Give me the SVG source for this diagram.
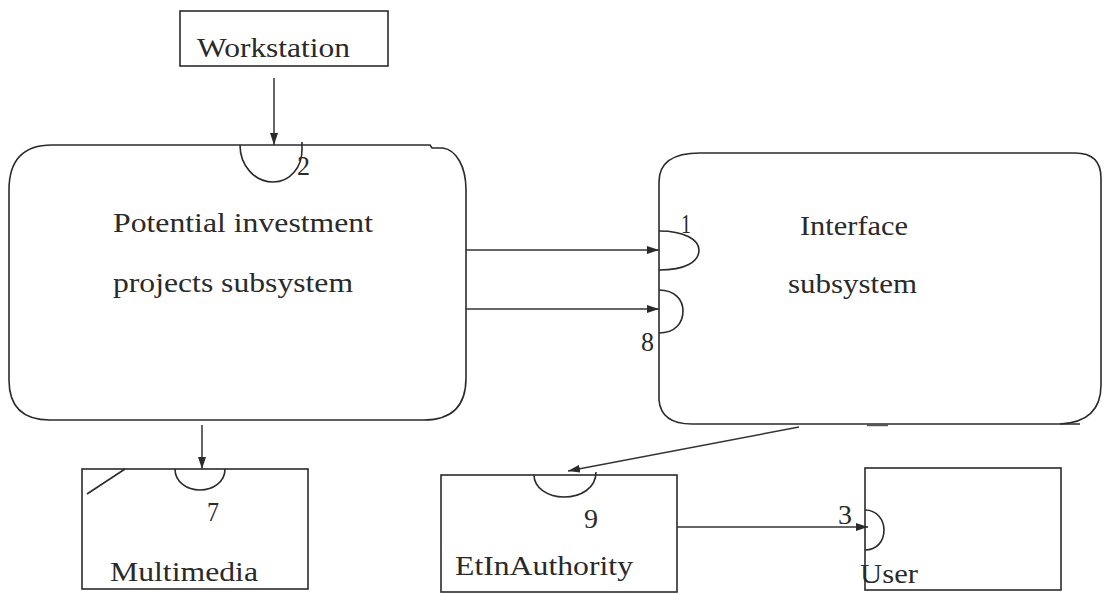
<svg xmlns="http://www.w3.org/2000/svg" width="1105" height="594" viewBox="0 0 1105 594">
  <style>
    .box { fill: none; stroke: #2b2b2b; stroke-width: 1.6; }
    .port { fill: none; stroke: #2b2b2b; stroke-width: 1.6; }
    .flow { fill: none; stroke: #333; stroke-width: 1.5; marker-end: url(#arrow); }
    .label { font-family: "Liberation Serif", "Times New Roman", serif; font-size: 28px; fill: #2a2a2a; }
    .num { font-family: "Liberation Serif", "Times New Roman", serif; font-size: 27px; fill: #2a2a2a; }
  </style>
  <defs>
    <marker id="arrow" viewBox="0 0 12 8" refX="12" refY="4" markerWidth="12" markerHeight="8" markerUnits="userSpaceOnUse" orient="auto">
      <path d="M0,0 L12,4 L0,8 Z" fill="#2b2b2b"/>
    </marker>
  </defs>
  <rect width="1105" height="594" fill="#ffffff"/>

  <!-- Workstation -->
  <g id="workstation">
    <rect class="box" x="180" y="11" width="208" height="55"/>
    <text class="label" x="197" y="57" textLength="153" lengthAdjust="spacingAndGlyphs" font-size="31">Workstation</text>
  </g>

  <!-- Potential investment projects subsystem -->
  <g id="investment">
    <path class="box" d="M52,145 H430 L432,148 H443 C456,150 466,166 466,190 V378 Q466,420 424,420 H50 Q9,420 9,380 V190 Q9,145 52,145 Z"/>
    <path class="port" d="M240,145 C240,166 255,182 273,182 C291,182 302,166 302,150 L302,142"/>
    <text class="num" x="297" y="175" textLength="13" lengthAdjust="spacingAndGlyphs">2</text>
    <text class="label" x="113" y="232" textLength="260" lengthAdjust="spacingAndGlyphs">Potential investment</text>
    <text class="label" x="113" y="292" textLength="240" lengthAdjust="spacingAndGlyphs">projects subsystem</text>
  </g>

  <!-- Interface subsystem -->
  <g id="interface">
    <path class="box" d="M700,153 H1075 Q1101,153 1101,178 V385 Q1101,422 1060,424"/>
    <path class="box" d="M700,153 Q659,153 659,182 V400 Q661,424 692,424 H1080"/>
    <line x1="867" y1="425" x2="888" y2="425" stroke="#555" stroke-width="2.4"/>
    <path class="port" d="M659,231 C685,231 699,240 699,250 C699,262 685,270 659,270"/>
    <path class="port" d="M659,290 C675,290 683,300 683,311 C683,323 675,333 659,333"/>
    <text class="num" x="681" y="233" textLength="10" lengthAdjust="spacingAndGlyphs">1</text>
    <text class="num" x="641" y="351" textLength="13" lengthAdjust="spacingAndGlyphs">8</text>
    <text class="label" x="800" y="235" textLength="108" lengthAdjust="spacingAndGlyphs">Interface</text>
    <text class="label" x="788" y="293" textLength="129" lengthAdjust="spacingAndGlyphs">subsystem</text>
  </g>

  <!-- Multimedia -->
  <g id="multimedia">
    <rect class="box" x="82" y="469" width="226" height="120"/>
    <line class="box" x1="87" y1="494" x2="125" y2="469"/>
    <path class="port" d="M175,469 C175,482 187,490 200,490 C213,490 225,482 225,469"/>
    <text class="num" x="207" y="521" textLength="12" lengthAdjust="spacingAndGlyphs">7</text>
    <text class="label" x="110" y="581" textLength="148" lengthAdjust="spacingAndGlyphs">Multimedia</text>
  </g>

  <!-- EtInAuthority -->
  <g id="etinauthority">
    <rect class="box" x="441" y="475" width="236" height="117"/>
    <path class="port" d="M534,475 C534,488 548,497 564,497 C581,497 596,488 596,472"/>
    <text class="num" x="584" y="528" textLength="14" lengthAdjust="spacingAndGlyphs">9</text>
    <text class="label" x="455" y="575" textLength="178" lengthAdjust="spacingAndGlyphs">EtInAuthority</text>
  </g>

  <!-- User -->
  <g id="user">
    <rect class="box" x="865" y="468" width="196" height="122"/>
    <path class="port" d="M865,510 C877,510 884,520 884,530 C884,541 877,550 865,550"/>
    <text class="num" x="838" y="524" textLength="14" lengthAdjust="spacingAndGlyphs">3</text>
    <text class="label" x="860" y="583" textLength="58" lengthAdjust="spacingAndGlyphs">User</text>
  </g>

  <!-- Flows between subsystems -->
  <g id="connectors">
    <line class="flow" x1="274" y1="78" x2="274" y2="145"/>
    <line class="flow" x1="466" y1="250" x2="659" y2="250"/>
    <line class="flow" x1="466" y1="309" x2="659" y2="309"/>
    <line class="flow" x1="202" y1="425" x2="202" y2="469"/>
    <line class="flow" x1="799" y1="427" x2="568" y2="471"/>
    <line class="flow" x1="677" y1="527" x2="868" y2="527"/>
  </g>
</svg>
